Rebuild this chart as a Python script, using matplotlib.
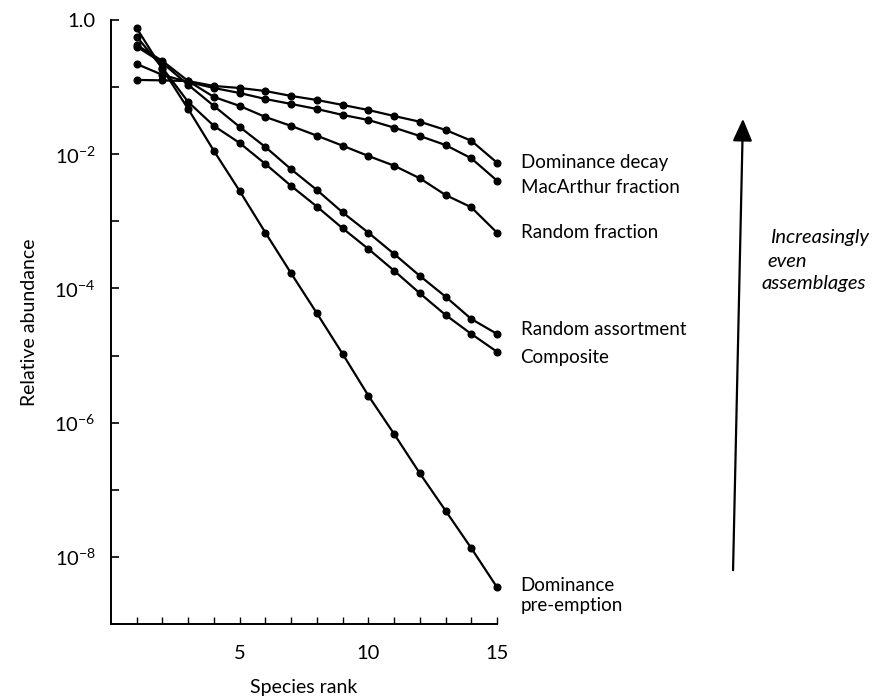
import matplotlib
matplotlib.use("Agg")
import matplotlib.pyplot as plt
from matplotlib.ticker import FixedLocator, NullLocator

plt.rcParams['font.family'] = ['Lato', 'DejaVu Sans']
plt.rcParams['mathtext.fontset'] = 'custom'
plt.rcParams['mathtext.rm'] = 'Lato'
plt.rcParams['mathtext.it'] = 'Lato:italic'

rank = list(range(1, 16))

dominance_decay = [0.128, 0.126, 0.123, 0.104, 0.097, 0.0875, 0.0738, 0.0643,
                   0.0542, 0.0456, 0.0371, 0.0305, 0.0230, 0.0159, 0.00748]
macarthur_fraction = [0.221, 0.152, 0.119, 0.097, 0.0817, 0.0665, 0.0561, 0.0472,
                      0.0385, 0.0324, 0.0249, 0.0187, 0.0137, 0.00870, 0.00404]
random_fraction = [0.424, 0.245, 0.123, 0.0713, 0.0524, 0.0359, 0.0264, 0.0189,
                   0.0134, 0.00942, 0.00675, 0.00438, 0.00247, 0.00162, 0.000678]
random_assortment = [0.40, 0.229, 0.108, 0.0524, 0.0255, 0.0128, 0.00597, 0.00293,
                     0.00136, 0.000678, 0.000327, 0.000154, 7.55e-5, 3.51e-5, 2.10e-5]
composite = [0.564, 0.193, 0.0600, 0.0264, 0.0147, 0.00716, 0.00337, 0.00166,
             0.000788, 0.000388, 0.000184, 8.48e-5, 4.03e-5, 2.10e-5, 1.14e-5]
dominance_preemption = [0.752, 0.186, 0.0472, 0.0112, 0.00283, 0.000678, 0.000168,
                        4.27e-5, 1.06e-5, 2.53e-6, 6.80e-7, 1.76e-7, 4.89e-8,
                        1.35e-8, 3.53e-9]

series = [
    ("Dominance decay", dominance_decay, 0),
    ("MacArthur fraction", macarthur_fraction, -5),
    ("Random fraction", random_fraction, 0),
    ("Random assortment", random_assortment, 3),
    ("Composite", composite, -4),
    ("Dominance\npre-emption", dominance_preemption, -6),
]

y_tick_values = [1e-9, 1e-8, 1e-7, 1e-6, 1e-5, 1e-4, 1e-3, 1e-2, 1e-1, 1.0]
y_tick_labels = ["", r"$10^{-8}$", "", r"$10^{-6}$", "", r"$10^{-4}$", "",
                 r"$10^{-2}$", "", "1.0"]
x_tick_values = list(range(1, 16))
x_tick_labels = ["5" if v == 5 else "10" if v == 10 else "15" if v == 15 else ""
                 for v in x_tick_values]

W, H = 891, 697
fig = plt.figure(figsize=(W / 100, H / 100), dpi=100)
ax = fig.add_axes([111 / W, 1 - 624 / H, (497 - 111) / W, (624 - 20) / H])

for name, vals, dy in series:
    ax.plot(rank, vals, color='black', lw=1.6, marker='o', ms=4.8,
            clip_on=False, zorder=3)
    ax.annotate(name, xy=(rank[-1], vals[-1]), xytext=(17, dy),
                textcoords='offset points', ha='left', va='center',
                fontsize=13.5, linespacing=1.2, annotation_clip=False)

ax.set_yscale('log')
ax.set_xlim(0, 15)
ax.set_ylim(1e-9, 1.0)
ax.yaxis.set_major_locator(FixedLocator(y_tick_values))
ax.set_yticklabels(y_tick_labels)
ax.yaxis.set_minor_locator(NullLocator())
ax.xaxis.set_major_locator(FixedLocator(x_tick_values))
ax.set_xticklabels(x_tick_labels)

ax.spines['top'].set_visible(False)
ax.spines['right'].set_visible(False)
ax.spines['left'].set_linewidth(1.4)
ax.spines['bottom'].set_linewidth(1.4)
ax.tick_params(axis='y', direction='in', length=6, width=1.2, pad=11, labelsize=14.5)
ax.tick_params(axis='x', direction='in', length=5, width=1.0, pad=15, labelsize=14.5)

ax.set_ylabel("Relative abundance", fontsize=14, labelpad=12)
ax.set_xlabel("Species rank", fontsize=14, labelpad=12)

# arrow indicating increasingly even assemblages
fig.patches.append(matplotlib.patches.FancyArrowPatch(
    (733 / W, 1 - 573 / H), (743 / W, 1 - 116 / H), transform=fig.transFigure,
    arrowstyle='-|>,head_length=8,head_width=3.5', mutation_scale=1.7,
    color='black', lw=1.6))
fig.text(770 / W, 1 - 237 / H, "Increasingly", style='italic', fontsize=14.5,
         va='center', ha='left')
fig.text(767 / W, 1 - 261 / H, "even", style='italic', fontsize=14.5,
         va='center', ha='left')
fig.text(761 / W, 1 - 284 / H, "assemblages", style='italic', fontsize=14.5,
         va='center', ha='left')

fig.savefig("out.png", dpi=100)
